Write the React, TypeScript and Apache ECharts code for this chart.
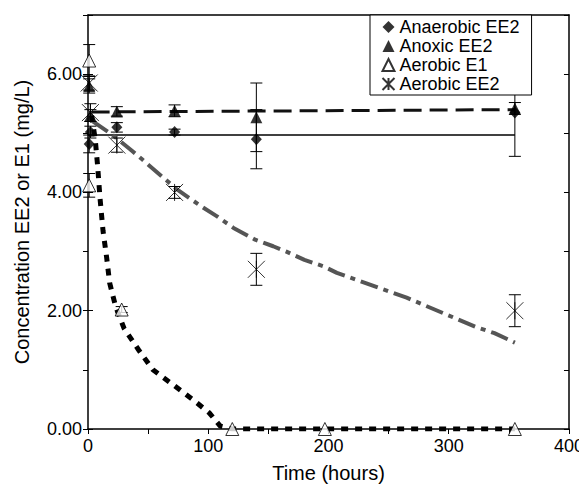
import React, { useEffect, useRef } from "react";
import * as echarts from "echarts";

// Measured points: time (h), concentration (mg/L), error (±)
const anaerobicT = [1, 2, 24, 72, 140, 355];
const anaerobicV = [4.82, 5.02, 5.1, 5.02, 4.9, 5.35];
const anaerobicE = [0.15, 0.1, 0.08, 0.05, 0.5, 0.74];

const anoxicT = [1, 2, 24, 72, 140, 355];
const anoxicV = [5.8, 5.3, 5.37, 5.38, 5.27, 5.42];
const anoxicE = [0.12, 0.1, 0.08, 0.1, 0.58, 0.1];

const aerobicE1T = [1, 1, 28, 120, 197, 355];
const aerobicE1V = [6.23, 4.12, 2.02, 0, 0, 0];
const aerobicE1E = [0.27, 0.2, 0.05, 0, 0, 0];

const aerobicEE2T = [1, 2, 24, 72, 140, 355];
const aerobicEE2V = [5.85, 5.35, 4.8, 4.0, 2.7, 2.0];
const aerobicEE2E = [0.12, 0.15, 0.12, 0.1, 0.27, 0.27];

// Fitted curves
const anaerobicFitT = [0, 355];
const anaerobicFitV = [4.97, 4.97];

const anoxicFitT = [3, 355];
const anoxicFitV = [5.36, 5.4];

const e1FitT = [3, 6, 8, 10, 12.5, 15.5, 18, 23, 30, 42, 54, 70, 87, 101, 110, 120, 200, 355];
const e1FitV = [5.3, 4.9, 4.45, 3.9, 3.35, 2.9, 2.47, 2.07, 1.7, 1.34, 1.0, 0.76, 0.5, 0.27, 0.05, 0, 0, 0];

const ee2FitT = [4, 20, 35, 45, 74, 96, 107, 121, 131, 139, 154, 165, 180, 196, 207, 265, 322, 338, 355];
const ee2FitV = [5.2, 4.98, 4.73, 4.56, 4.05, 3.74, 3.6, 3.4, 3.29, 3.2, 3.09, 3.0, 2.86, 2.75, 2.64, 2.22, 1.73, 1.62, 1.46];

const xTicks = { min: 0, max: 400, interval: 100 };
const yTicks = { min: 0, max: 7, interval: 2 };

const FONT = "'Liberation Sans', Arial, sans-serif";

const zip = (t: number[], v: number[]) => t.map((x, i) => [x, v[i]]);
const errs = (t: number[], v: number[], e: number[]) =>
  t.map((x, i) => [x, v[i] - e[i], v[i] + e[i], e[i]]).filter((d) => d[3] > 0);

export default function App() {
  const ref = useRef<HTMLDivElement>(null);
  useEffect(() => {
    if (!ref.current) return;
    const chart = echarts.init(ref.current, undefined, { renderer: "svg" });

    const errorSeries = (data: number[][]) => ({
      type: "custom",
      z: 4,
      silent: true,
      encode: { x: 0, y: [1, 2] },
      data,
      renderItem: (params: any, api: any) => {
        const x = api.value(0);
        const lo = api.coord([x, api.value(1)]);
        const hi = api.coord([x, api.value(2)]);
        const hw = 6;
        const st = { stroke: "#000", lineWidth: 1 };
        return {
          type: "group",
          children: [
            { type: "line", shape: { x1: lo[0], y1: lo[1], x2: hi[0], y2: hi[1] }, style: st },
            { type: "line", shape: { x1: lo[0] - hw, y1: lo[1], x2: lo[0] + hw, y2: lo[1] }, style: st },
            { type: "line", shape: { x1: hi[0] - hw, y1: hi[1], x2: hi[0] + hw, y2: hi[1] }, style: st },
          ],
        };
      },
    });

    const fit = (t: number[], v: number[], lineStyle: any) => ({
      type: "line",
      data: zip(t, v),
      showSymbol: false,
      symbol: "none",
      z: 3,
      silent: true,
      lineStyle,
    });

    const starPath = "path://M0 0L10 10M10 0L0 10M5 0L5 10";

    chart.setOption({
      animation: false,
      textStyle: { fontFamily: FONT },
      grid: { left: 88, right: 18, top: 15, bottom: 64, containLabel: false },
      legend: {
        orient: "vertical",
        left: 370,
        top: 15,
        z: 20,
        backgroundColor: "#fff",
        borderColor: "#000",
        borderWidth: 1,
        padding: [3, 12, 2, 10],
        itemGap: 1,
        itemWidth: 12,
        itemHeight: 12,
        textStyle: { fontFamily: FONT, fontSize: 18, color: "#000", lineHeight: 16 },
        data: ["Anaerobic EE2", "Anoxic EE2", "Aerobic E1", "Aerobic EE2"],
      },
      xAxis: [
        {
          type: "value",
          ...xTicks,
          name: "Time (hours)",
          nameLocation: "middle",
          nameGap: 34,
          nameTextStyle: { fontSize: 20, color: "#000", fontFamily: FONT },
          axisLine: { show: true, onZero: false, lineStyle: { color: "#000", width: 1.5 } },
          axisTick: { show: true, length: 5, lineStyle: { color: "#000" } },
          minorTick: { show: true, splitNumber: 2, length: 5, lineStyle: { color: "#000" } },
          splitLine: { show: false },
          axisLabel: { fontSize: 18, color: "#000", fontFamily: FONT, margin: 8 },
        },
        {
          type: "value",
          position: "top",
          ...xTicks,
          axisLine: { show: true, onZero: false, lineStyle: { color: "#000", width: 1.5 } },
          axisTick: { show: false },
          axisLabel: { show: false },
          splitLine: { show: false },
        },
      ],
      yAxis: [
        {
          type: "value",
          ...yTicks,
          name: "Concentration EE2 or E1 (mg/L)",
          nameLocation: "middle",
          nameGap: 56,
          nameTextStyle: { fontSize: 20, color: "#000", fontFamily: FONT },
          axisLine: { show: true, onZero: false, lineStyle: { color: "#000", width: 1.5 } },
          axisTick: { show: true, length: 5, lineStyle: { color: "#000" } },
          minorTick: { show: true, splitNumber: 2, length: 5, lineStyle: { color: "#000" } },
          splitLine: { show: false },
          axisLabel: {
            fontSize: 18,
            color: "#000",
            fontFamily: FONT,
            margin: 6,
            showMaxLabel: false,
            formatter: (v: number) => v.toFixed(2),
          },
        },
        {
          type: "value",
          position: "right",
          ...yTicks,
          axisLine: { show: true, onZero: false, lineStyle: { color: "#000", width: 1.5 } },
          axisTick: { show: true, inside: true, length: 5, lineStyle: { color: "#000" } },
          minorTick: { show: true, splitNumber: 2, length: 5, lineStyle: { color: "#000" } },
          axisLabel: { show: false },
          splitLine: { show: false },
        },
        {
          type: "value",
          position: "right",
          ...yTicks,
          axisLine: { show: false },
          axisTick: { show: true, inside: false, length: 5, lineStyle: { color: "#000" } },
          axisLabel: { show: false },
          splitLine: { show: false },
        },
      ],
      series: [
        fit(anaerobicFitT, anaerobicFitV, { color: "#000", width: 1.5, type: "solid" }),
        fit(anoxicFitT, anoxicFitV, { color: "#111", width: 3, type: [18, 8] }),
        fit(e1FitT, e1FitV, { color: "#000", width: 5, type: [7, 7] }),
        fit(ee2FitT, ee2FitV, { color: "#555", width: 4, type: [18, 6, 5, 6] }),
        errorSeries(errs(anaerobicT, anaerobicV, anaerobicE)),
        errorSeries(errs(anoxicT, anoxicV, anoxicE)),
        errorSeries(errs(aerobicE1T, aerobicE1V, aerobicE1E)),
        errorSeries(errs(aerobicEE2T, aerobicEE2V, aerobicEE2E)),
        {
          name: "Anaerobic EE2",
          type: "scatter",
          z: 5,
          symbol: "diamond",
          symbolSize: [11, 12],
          itemStyle: { color: "#000" },
          data: zip(anaerobicT, anaerobicV),
        },
        {
          name: "Anoxic EE2",
          type: "scatter",
          z: 5,
          symbol: "triangle",
          symbolSize: [12, 12],
          itemStyle: { color: "#000" },
          data: zip(anoxicT, anoxicV),
        },
        {
          name: "Aerobic E1",
          type: "scatter",
          z: 5,
          symbol: "triangle",
          symbolSize: [13, 13],
          itemStyle: { color: "#fff", borderColor: "#000", borderWidth: 1 },
          data: zip(aerobicE1T, aerobicE1V),
        },
        {
          name: "Aerobic EE2",
          type: "scatter",
          z: 5,
          symbol: starPath,
          symbolSize: [17, 17],
          itemStyle: { color: "none", borderColor: "#000", borderWidth: 1 },
          data: zip(aerobicEE2T, aerobicEE2V),
        },
      ],
    });
    return () => chart.dispose();
  }, []);
  return <div ref={ref} style={{ width: 587, height: 493, margin: -8 }} />;
}
